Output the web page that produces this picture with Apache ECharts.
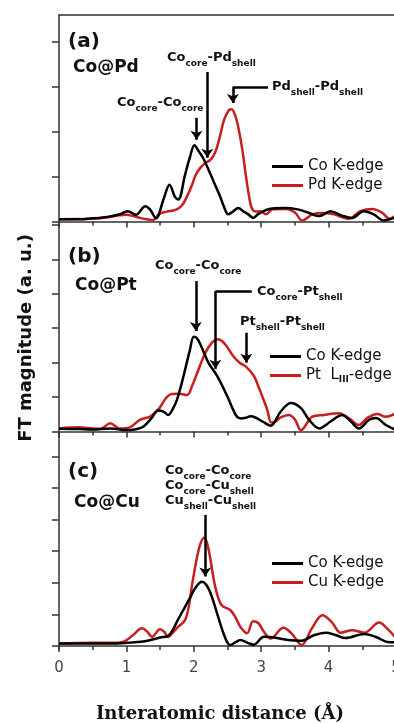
<!DOCTYPE html>
<html>
<head>
<meta charset="utf-8">
<script src="https://cdn.jsdelivr.net/npm/echarts@6/dist/echarts.min.js"></script>
<style>
  html, body { margin: 0; padding: 0; background: #fff; }
  #chart { width: 394px; height: 723px; }
</style>
</head>
<body>
<div id="chart"></div>
<script>
// [distance (Å), FT magnitude], one array per curve
const coPdCo = [[0, 0.05], [0.3, 0.05], [0.5, 0.07], [0.65, 0.09], [0.78, 0.12], [0.9, 0.16], [1.02, 0.23], [1.14, 0.15], [1.28, 0.34], [1.35, 0.27], [1.44, 0.07], [1.55, 0.49], [1.64, 0.82], [1.72, 0.55], [1.77, 0.49], [1.87, 1.04], [1.94, 1.42], [2.01, 1.7], [2.08, 1.55], [2.14, 1.41], [2.24, 1.08], [2.32, 0.8], [2.39, 0.56], [2.45, 0.32], [2.51, 0.16], [2.58, 0.22], [2.66, 0.3], [2.74, 0.22], [2.8, 0.17], [2.88, 0.08], [2.96, 0.17], [3.12, 0.28], [3.34, 0.3], [3.54, 0.27], [3.71, 0.19], [3.86, 0.12], [4.03, 0.23], [4.2, 0.13], [4.35, 0.08], [4.52, 0.23], [4.67, 0.16], [4.82, 0.02], [4.97, 0.08], [5, 0.1]]
const coPdPd = [[0, 0.05], [0.4, 0.06], [0.6, 0.07], [0.76, 0.1], [0.9, 0.14], [1.0, 0.15], [1.1, 0.12], [1.2, 0.08], [1.3, 0.05], [1.39, 0.03], [1.49, 0.17], [1.6, 0.22], [1.73, 0.26], [1.82, 0.35], [1.9, 0.56], [1.97, 0.8], [2.03, 1.04], [2.1, 1.2], [2.17, 1.3], [2.25, 1.38], [2.32, 1.55], [2.38, 1.85], [2.45, 2.27], [2.52, 2.48], [2.56, 2.5], [2.61, 2.38], [2.66, 2.1], [2.72, 1.6], [2.77, 1.05], [2.82, 0.56], [2.86, 0.3], [2.92, 0.22], [2.99, 0.23], [3.07, 0.16], [3.17, 0.27], [3.37, 0.28], [3.5, 0.2], [3.61, 0.02], [3.76, 0.16], [3.91, 0.19], [4.08, 0.16], [4.3, 0.06], [4.47, 0.23], [4.65, 0.28], [4.8, 0.19], [4.9, 0.06], [5, 0.14]]

const coPtCo = [[0, 0.08], [0.3, 0.07], [0.5, 0.06], [0.76, 0.09], [1.0, 0.04], [1.12, 0.06], [1.25, 0.14], [1.37, 0.38], [1.47, 0.61], [1.55, 0.58], [1.62, 0.48], [1.7, 0.7], [1.75, 0.92], [1.82, 1.4], [1.87, 1.79], [1.94, 2.35], [2.0, 2.75], [2.05, 2.7], [2.1, 2.52], [2.16, 2.25], [2.22, 1.99], [2.35, 1.6], [2.5, 1.01], [2.58, 0.65], [2.64, 0.43], [2.7, 0.38], [2.77, 0.4], [2.84, 0.44], [2.92, 0.4], [3.02, 0.29], [3.14, 0.17], [3.29, 0.58], [3.44, 0.83], [3.59, 0.68], [3.71, 0.34], [3.86, 0.09], [4.03, 0.29], [4.2, 0.48], [4.33, 0.29], [4.45, 0.09], [4.6, 0.34], [4.7, 0.39], [4.85, 0.19], [5, 0.04]]
const coPtPt = [[0, 0.09], [0.3, 0.12], [0.5, 0.09], [0.62, 0.08], [0.76, 0.24], [0.9, 0.09], [1.05, 0.12], [1.2, 0.34], [1.35, 0.43], [1.49, 0.68], [1.58, 0.95], [1.67, 1.09], [1.78, 1.1], [1.9, 1.06], [1.98, 1.35], [2.05, 1.7], [2.17, 2.28], [2.27, 2.58], [2.35, 2.68], [2.45, 2.57], [2.59, 2.18], [2.68, 2.0], [2.77, 1.89], [2.89, 1.62], [2.96, 1.3], [3.02, 1.0], [3.09, 0.63], [3.15, 0.26], [3.22, 0.3], [3.29, 0.41], [3.41, 0.48], [3.5, 0.35], [3.59, 0.04], [3.76, 0.43], [3.93, 0.48], [4.15, 0.53], [4.3, 0.39], [4.45, 0.19], [4.57, 0.39], [4.72, 0.51], [4.85, 0.43], [5, 0.53]]

const coCuCo = [[0, 0.08], [0.5, 0.08], [0.76, 0.08], [1.0, 0.1], [1.25, 0.14], [1.5, 0.27], [1.62, 0.32], [1.7, 0.55], [1.75, 0.77], [1.87, 1.24], [1.95, 1.55], [2.02, 1.83], [2.12, 2.03], [2.18, 1.95], [2.24, 1.72], [2.3, 1.35], [2.36, 0.93], [2.46, 0.29], [2.54, 0.03], [2.62, 0.12], [2.69, 0.19], [2.8, 0.1], [2.89, 0.04], [3.04, 0.29], [3.19, 0.27], [3.4, 0.19], [3.6, 0.17], [3.78, 0.34], [3.96, 0.42], [4.1, 0.35], [4.25, 0.25], [4.53, 0.38], [4.72, 0.27], [4.87, 0.13], [5, 0.12]]
const coCuCu = [[0, 0.08], [0.5, 0.1], [0.76, 0.1], [0.96, 0.14], [1.1, 0.35], [1.23, 0.56], [1.31, 0.45], [1.38, 0.29], [1.5, 0.53], [1.56, 0.45], [1.62, 0.29], [1.7, 0.45], [1.77, 0.61], [1.87, 0.82], [1.93, 1.3], [1.97, 1.88], [2.05, 2.83], [2.1, 3.25], [2.15, 3.43], [2.19, 3.3], [2.24, 2.83], [2.28, 2.3], [2.33, 1.77], [2.41, 1.3], [2.54, 1.14], [2.62, 0.9], [2.69, 0.61], [2.79, 0.4], [2.88, 0.78], [2.96, 0.72], [3.04, 0.45], [3.14, 0.24], [3.33, 0.58], [3.45, 0.4], [3.6, 0.03], [3.75, 0.55], [3.91, 0.97], [4.05, 0.75], [4.18, 0.42], [4.35, 0.5], [4.53, 0.42], [4.75, 0.74], [4.87, 0.55], [5, 0.25]]

// arrows pointing at the peaks, in data units of each panel (last point gets the head)
const arrowsA = [
  [[2.04, 2.31], [2.04, 1.82]],
  [[2.2, 3.33], [2.2, 1.42]],
  [[3.1, 3.0], [2.58, 3.0], [2.58, 2.64]]
]
const arrowsB = [
  [[2.03, 4.37], [2.03, 2.92]],
  [[2.86, 4.08], [2.32, 4.08], [2.32, 1.82]],
  [[2.78, 2.87], [2.78, 2.0]]
]
const arrowsC = [
  [[2.17, 4.15], [2.17, 2.2]]
]

const yTicksA = [0, 1, 2, 3, 4]
const yTicksB = [0, 1, 2, 3, 4, 5, 6]
const yTicksC = [0, 1, 2, 3, 4, 5, 6]

const legendA = ['Co K-edge', 'Pd K-edge']
const legendB = ['Co K-edge', 'Pt LIII-edge']
const legendC = ['Co K-edge', 'Cu K-edge']

const font = 'DejaVu Sans'
const ink = '#111'
const red = '#c81e1e'
const axisColor = '#333'

const chart = echarts.init(document.getElementById('chart'))

const arrowLines = (paths) => {
  const out = []
  paths.forEach((p) => {
    for (let i = 0; i < p.length - 1; i++) {
      const head = i === p.length - 2
      out.push([
        { coord: p[i], symbol: 'none' },
        { coord: p[i + 1], symbol: head ? 'arrow' : 'none' }
      ])
    }
  })
  return out
}

const line = (name, data, color, idx, arrows) => {
  const s = {
    name,
    type: 'line',
    xAxisIndex: idx,
    yAxisIndex: idx,
    data,
    smooth: 0.35,
    symbol: 'none',
    silent: true,
    lineStyle: { color, width: 2.5 },
    itemStyle: { color }
  }
  if (arrows) {
    s.markLine = {
      silent: true,
      symbolSize: 9,
      label: { show: false },
      lineStyle: { color: '#000', width: 2.5, type: 'solid' },
      data: arrowLines(arrows)
    }
  }
  return s
}

const xAxis = (idx, showLabel) => ({
  type: 'value',
  gridIndex: idx,
  min: 0,
  max: 5,
  interval: 1,
  axisLine: { lineStyle: { color: axisColor, width: 1.5 } },
  axisTick: { length: 6, lineStyle: { color: axisColor, width: 1.5 } },
  minorTick: { show: true, splitNumber: 2, length: 4, lineStyle: { color: axisColor, width: 1.5 } },
  splitLine: { show: false },
  axisLabel: { show: showLabel, fontFamily: font, fontSize: 15, color: '#444', margin: 12 }
})

const yAxis = (idx, min, max, ticks) => ({
  type: 'value',
  gridIndex: idx,
  min,
  max,
  axisLine: { show: true, lineStyle: { color: axisColor, width: 1.5 } },
  axisTick: { show: true, length: 7, customValues: ticks, lineStyle: { color: axisColor, width: 1.5 } },
  axisLabel: { show: false },
  splitLine: { show: false }
})

const sub = (a, as, b, bs) => `{m|${a}}{s|${as}}{m|-${b}}{s|${bs}}`
const subRich = {
  m: { fontFamily: font, fontSize: 13, fontWeight: 'bold', lineHeight: 20, fill: ink },
  s: { fontFamily: font, fontSize: 9, fontWeight: 'bold', verticalAlign: 'bottom', fill: ink }
}
const label = (x, y, text) => ({
  type: 'text', x, y, silent: true,
  style: { text, rich: subRich, align: 'left', verticalAlign: 'middle' }
})
const title = (x, y, text, size) => ({
  type: 'text', x, y, silent: true,
  style: { text, fontFamily: font, fontSize: size, fontWeight: 'bold', fill: ink, align: 'left', verticalAlign: 'middle' }
})

const legendNames = { 'Pt LIII-edge': '{t|Pt  L}{s|III}{t|-edge}' }
const legend = (data, left, top) => ({
  data,
  left,
  top,
  orient: 'vertical',
  padding: 0,
  icon: 'rect',
  itemWidth: 31,
  itemHeight: 3,
  itemGap: 2,
  selectedMode: false,
  formatter: (name) => legendNames[name] || name,
  textStyle: {
    fontFamily: font, fontSize: 15, color: ink, lineHeight: 17,
    rich: {
      t: { fontFamily: font, fontSize: 15, color: ink, lineHeight: 17 },
      s: { fontFamily: font, fontSize: 9, fontWeight: 'bold', color: ink, verticalAlign: 'bottom' }
    }
  }
})

const grid = (top, height) => ({ left: 59, right: -2, top, height, outerBoundsMode: 'none', containLabel: false })

const option = {
  animation: false,
  backgroundColor: '#fff',
  grid: [grid(15, 210), grid(225, 212), grid(437, 212)],
  xAxis: [
    xAxis(0, false),
    xAxis(1, false),
    xAxis(2, true),
    {
      type: 'value', gridIndex: 0, position: 'top', min: 0, max: 5,
      axisLine: { lineStyle: { color: axisColor, width: 1.5 } },
      axisTick: { show: false }, axisLabel: { show: false }, splitLine: { show: false }
    }
  ],
  yAxis: [
    yAxis(0, -0.078, 4.6, yTicksA),
    yAxis(1, -0.16, 6.0, yTicksB),
    yAxis(2, -0.095, 6.615, yTicksC)
  ],
  legend: [
    legend(legendA, 272, 158),
    legend(legendB, 270, 348),
    legend(legendC, 272, 555)
  ],
  series: [
    line('Pd K-edge', coPdPd, red, 0),
    line('Co K-edge', coPdCo, '#000', 0, arrowsA),
    line('Pt LIII-edge', coPtPt, red, 1),
    line('Co K-edge', coPtCo, '#000', 1, arrowsB),
    line('Cu K-edge', coCuCu, red, 2),
    line('Co K-edge', coCuCo, '#000', 2, arrowsC)
  ],
  graphic: [
    title(68, 42, '(a)', 20),
    title(73, 68, 'Co@Pd', 17),
    label(117, 103, sub('Co', 'core', 'Co', 'core')),
    label(167, 58, sub('Co', 'core', 'Pd', 'shell')),
    label(272, 87, sub('Pd', 'shell', 'Pd', 'shell')),

    title(68, 257, '(b)', 20),
    title(75, 286, 'Co@Pt', 17),
    label(155, 266, sub('Co', 'core', 'Co', 'core')),
    label(257, 292, sub('Co', 'core', 'Pt', 'shell')),
    label(240, 322, sub('Pt', 'shell', 'Pt', 'shell')),

    title(68, 472, '(c)', 20),
    title(74, 503, 'Co@Cu', 17),
    label(165, 471, sub('Co', 'core', 'Co', 'core')),
    label(165, 486, sub('Co', 'core', 'Cu', 'shell')),
    label(165, 501, sub('Cu', 'shell', 'Cu', 'shell')),

    {
      type: 'text', x: 26, y: 338, rotation: Math.PI / 2, silent: true,
      style: { text: 'FT magnitude (a. u.)', fontFamily: font, fontSize: 18, fontWeight: 'bold', fill: ink, align: 'center', verticalAlign: 'middle' }
    },
    {
      type: 'text', x: 220, y: 714, silent: true,
      style: { text: 'Interatomic distance (Å)', fontFamily: 'DejaVu Serif', fontSize: 18, fontWeight: 'bold', fill: ink, align: 'center', verticalAlign: 'middle' }
    }
  ]
}

chart.setOption(option)
</script>
</body>
</html>
